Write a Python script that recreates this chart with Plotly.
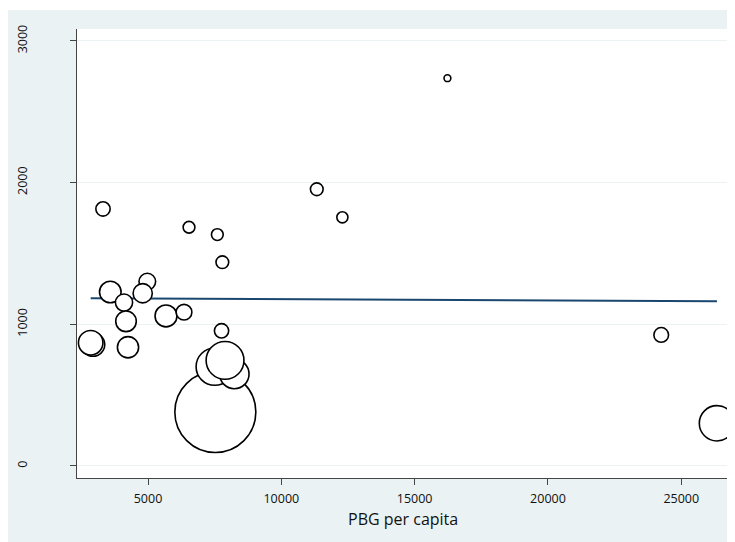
import plotly.graph_objects as go

# Data
pbg_per_capita = [7525, 7503, 8238, 7889, 16230, 11330, 12290, 3312, 6538, 7600, 7788,
                  4974, 3586, 4801, 4100, 5675, 6351, 4175, 7758, 2936, 2850, 4250,
                  24248, 26338]
outcome = [381, 701, 649, 745, 2737, 1953, 1755, 1814, 1685, 1633, 1438,
           1301, 1228, 1219, 1153, 1059, 1085, 1021, 954, 857, 870, 838,
           925, 301]
weight = [1706, 361, 225, 372, 12, 42, 32, 53, 36, 36, 42,
          72, 121, 96, 77, 125, 64, 110, 53, 144, 156, 117,
          56, 324]
fit_x = [2850, 26338]
fit_y = [1184, 1163]
x_ticks = [5000, 10000, 15000, 20000, 25000]
y_ticks = [0, 1000, 2000, 3000]
x_title = "PBG per capita"

BG = "#eaf2f3"
FONT = "Open Sans"

fig = go.Figure()
fig.add_trace(go.Scatter(
    x=fit_x, y=fit_y, mode="lines",
    line=dict(color="#1a476f", width=2),
    hoverinfo="skip", showlegend=False))
fig.add_trace(go.Scatter(
    x=pbg_per_capita, y=outcome, mode="markers",
    marker=dict(size=weight, sizemode="area", sizeref=0.52, sizemin=1, opacity=1,
                color="white", line=dict(color="black", width=1.6)),
    cliponaxis=False, showlegend=False))

fig.update_layout(
    width=727, height=534,
    margin=dict(l=69, r=6, t=21, b=64, autoexpand=False),
    paper_bgcolor=BG, plot_bgcolor="white",
    font=dict(family=FONT, size=12.5, color="#111"),
    showlegend=False,
    shapes=[
        dict(type="rect", xref="paper", yref="paper", x0=-0.2, x1=1.1,
             y0=(449 + 19) / 449, y1=1.2, fillcolor="white", line=dict(width=0),
             layer="above"),
    ],
    annotations=[
        dict(text=x_title, xref="paper", yref="paper", x=0.5, y=-41 / 449,
             xanchor="center", yanchor="middle", showarrow=False,
             font=dict(family=FONT, size=16, color="#111")),
    ],
)
fig.update_xaxes(
    range=[2337, 26790], tickvals=x_ticks, ticktext=[str(v) for v in x_ticks],
    showgrid=False, zeroline=False, showline=True, linecolor="#444", linewidth=1,
    ticks="outside", ticklen=6, tickcolor="#444", tickwidth=1,
    ticklabelstandoff=3, automargin=False,
    tickfont=dict(family=FONT, size=12.5, color="#111"),
)
fig.update_yaxes(
    range=[-85, 3084], tickvals=y_ticks, ticktext=[str(v) for v in y_ticks],
    showgrid=True, gridcolor=BG, gridwidth=1.2, zeroline=False,
    showline=True, linecolor="#444", linewidth=1,
    ticks="outside", ticklen=6, tickcolor="#444", tickwidth=1,
    tickangle=-90, ticklabelstandoff=38, automargin=False,
    tickfont=dict(family=FONT, size=12.5, color="#111"),
)

fig.write_html("out.html")
